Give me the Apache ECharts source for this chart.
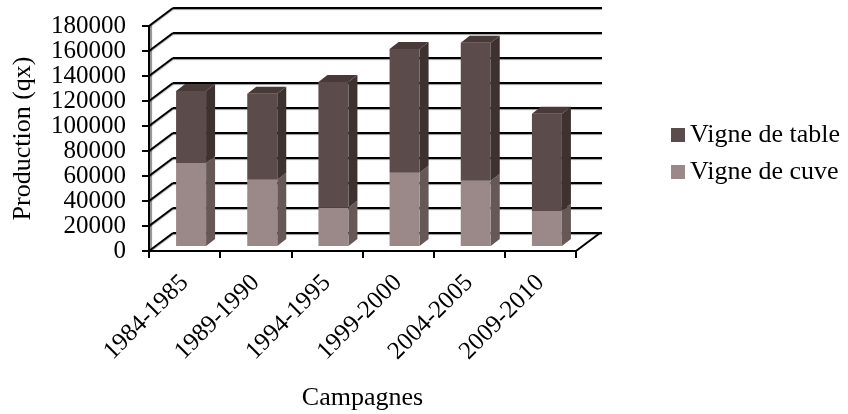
<!DOCTYPE html>
<html>
<head>
<meta charset="utf-8">
<style>html,body{margin:0;padding:0;background:#fff}#chart{width:848px;height:414px}</style>
<script src="https://cdn.jsdelivr.net/npm/echarts@6/dist/echarts.min.js"></script>
</head>
<body>
<div id="chart"></div>
<script>
// Production per campaign, in quintals
const campagnes = ['1984-1985', '1989-1990', '1994-1995', '1999-2000', '2004-2005', '2009-2010'];
const vigneCuve = [66400, 53100, 30700, 58700, 52300, 28000];
const vigneTable = [57600, 68800, 100500, 98900, 110400, 77900];
const yTicks = [0, 20000, 40000, 60000, 80000, 100000, 120000, 140000, 160000, 180000];

const FONT = '"Liberation Serif", "Times New Roman", serif';
// Depth of the box behind the front plane
const WALL_DX = 24, WALL_DY = -18;
// Placement of the prisms inside the box
const BAR_DX = 6.5, BAR_DY = -5, BAR_W = 30, BAR_DEPTH_X = 9, BAR_DEPTH_Y = -7;

const palette = {
  table: { front: '#5b4b4b', side: '#3e3230', top: '#483a39' },
  cuve: { front: '#9b8888', side: '#655857', top: '#7a6a69' }
};

// One stacked prism: front face, right side and, for the upper block, the lid
function prism(colors, withTop) {
  return function (params, api) {
    const base = api.coord([api.value(0), api.value(1)]);
    const head = api.coord([api.value(0), api.value(2)]);
    const xL = base[0] + BAR_DX - BAR_W / 2, xR = xL + BAR_W;
    const yB = base[1] + BAR_DY, yT = head[1] + BAR_DY;
    const dx = BAR_DEPTH_X, dy = BAR_DEPTH_Y;
    const kids = [
      { type: 'polygon', shape: { points: [[xR, yB], [xR + dx, yB + dy], [xR + dx, yT + dy], [xR, yT]] }, style: { fill: colors.side } },
      { type: 'rect', shape: { x: xL, y: yT, width: BAR_W, height: yB - yT }, style: { fill: colors.front } }
    ];
    if (withTop) {
      kids.push({ type: 'polygon', shape: { points: [[xL, yT], [xL + dx, yT + dy], [xR + dx, yT + dy], [xR, yT]] }, style: { fill: colors.top } });
    }
    return { type: 'group', children: kids };
  };
}

// Oblique lines joining the front axis to the back wall
function wallLink(params, api) {
  const sys = params.coordSys;
  const p = api.coord([0, api.value(0)]);
  const x = sys.x;
  return {
    type: 'group',
    children: [{
      type: 'line',
      shape: { x1: x, y1: p[1], x2: x + WALL_DX, y2: p[1] + WALL_DY },
      style: { stroke: '#000', lineWidth: 2, shadowColor: 'rgba(0,0,0,0.35)', shadowBlur: 1, shadowOffsetY: 1 }
    }].concat(api.value(0) === 0 ? [{
      type: 'line',
      shape: { x1: x + sys.width, y1: p[1], x2: x + sys.width + WALL_DX, y2: p[1] + WALL_DY },
      style: { stroke: '#000', lineWidth: 2 }
    }] : [])
  };
}

const axisStroke = { color: '#000', width: 2 };

const option = {
  animation: false,
  backgroundColor: '#fff',
  textStyle: { fontFamily: FONT, color: '#000' },
  legend: {
    orient: 'vertical',
    left: 671,
    top: 122,
    padding: 0,
    itemWidth: 14,
    itemHeight: 14,
    itemGap: 11,
    selectedMode: false,
    textStyle: { fontFamily: FONT, fontSize: 26, color: '#000' },
    data: [
      { name: 'Vigne de table', icon: 'rect', itemStyle: { color: palette.table.front } },
      { name: 'Vigne de cuve', icon: 'rect', itemStyle: { color: palette.cuve.front } }
    ]
  },
  grid: [
    { left: 149, top: 26, width: 427, height: 225, outerBoundsMode: 'none' },
    { left: 149 + WALL_DX, top: 26 + WALL_DY, width: 429, height: 225, outerBoundsMode: 'none' }
  ],
  xAxis: [
    {
      type: 'category', gridIndex: 0, data: campagnes,
      name: 'Campagnes', nameLocation: 'middle', nameGap: 134,
      nameTextStyle: { fontFamily: FONT, fontSize: 26, color: '#000' },
      axisLine: { lineStyle: axisStroke },
      axisTick: { show: true, alignWithLabel: false, length: 7, lineStyle: axisStroke },
      axisLabel: { rotate: 45, interval: 0, fontFamily: FONT, fontSize: 25, color: '#000', margin: 28 }
    },
    { type: 'value', gridIndex: 1, show: false, min: 0, max: 1 }
  ],
  yAxis: [
    {
      type: 'value', gridIndex: 0, min: 0, max: 180000, interval: 20000,
      name: 'Production (qx)', nameLocation: 'middle', nameGap: 113, nameRotate: 90,
      nameTextStyle: { fontFamily: FONT, fontSize: 26, color: '#000' },
      axisLine: { show: true, lineStyle: { color: '#000', width: 2, shadowColor: 'rgba(0,0,0,0.45)', shadowBlur: 1, shadowOffsetX: 2 } },
      axisTick: { show: true, length: 7, lineStyle: axisStroke },
      splitLine: { show: false },
      axisLabel: {
        fontFamily: FONT, fontSize: 25, color: '#000', margin: 23,
        formatter: v => String(v)
      }
    },
    {
      type: 'value', gridIndex: 1, min: 0, max: 180000, interval: 20000,
      axisLine: { show: false }, axisTick: { show: false }, axisLabel: { show: false },
      splitLine: { show: true, lineStyle: { color: '#000', width: 2, shadowColor: 'rgba(0,0,0,0.4)', shadowBlur: 1, shadowOffsetY: 1 } }
    }
  ],
  series: [
    {
      type: 'custom', name: 'links', xAxisIndex: 0, yAxisIndex: 0, z: 1, silent: true,
      renderItem: wallLink, data: yTicks.map(v => [v]), encode: { y: 0 }
    },
    {
      type: 'custom', name: 'Vigne de cuve', xAxisIndex: 0, yAxisIndex: 0, z: 3,
      renderItem: prism(palette.cuve, false),
      itemStyle: { color: palette.cuve.front },
      encode: { x: 0, y: [1, 2] },
      data: vigneCuve.map((v, i) => [i, 0, v])
    },
    {
      type: 'custom', name: 'Vigne de table', xAxisIndex: 0, yAxisIndex: 0, z: 3,
      renderItem: prism(palette.table, true),
      itemStyle: { color: palette.table.front },
      encode: { x: 0, y: [1, 2] },
      data: vigneTable.map((v, i) => [i, vigneCuve[i], vigneCuve[i] + v])
    }
  ]
};

echarts.init(document.getElementById('chart')).setOption(option);
</script>
</body>
</html>
